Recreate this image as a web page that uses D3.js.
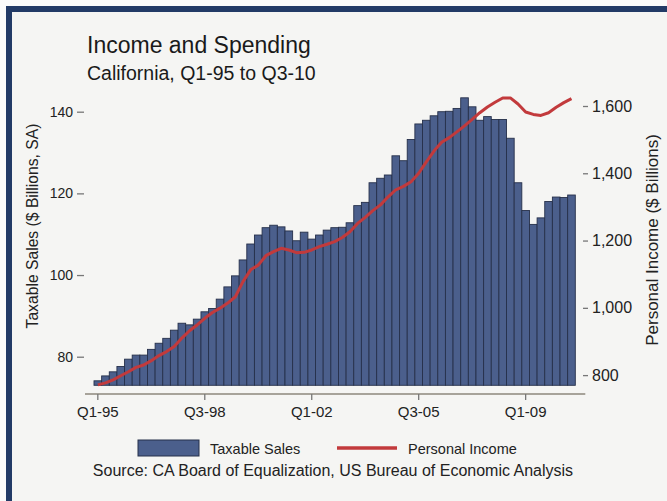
<!DOCTYPE html>
<html lang="en">
<head>
<meta charset="UTF-8">
<title>Income and Spending</title>
<script src="https://d3js.org/d3.v7.min.js"></script>
<style>
    body { margin: 0; background: #fafafa; }
    svg { display: block; font-family: "Liberation Sans", Arial, Helvetica, sans-serif; }
    .tick text { fill: #222; }
    .tick line { stroke: #777; stroke-width: 1.3; }
</style>
</head>
<body>
<svg id="chart" width="667" height="501"></svg>
<script>
    // quarters Q1-95 .. Q3-10
    const years = ["95","96","97","98","99","00","01","02","03","04","05","06","07","08","09","10"];
    const quarters = [];
    years.forEach(y => ["Q1","Q2","Q3","Q4"].forEach(q => quarters.push(q + "-" + y)));
    quarters.splice(quarters.indexOf("Q3-10") + 1);

    // Taxable sales, $ billions SA (left axis)
    const taxableSales = [
        74.1, 75.3, 76.3, 77.6, 79.4, 80.4, 80.4, 81.8, 83.3, 84.5,
        86.5, 88.2, 87.8, 89.2, 91.0, 91.8, 94.1, 97.1, 99.8, 103.7,
        107.6, 109.8, 111.6, 112.2, 111.8, 110.8, 108.4, 110.5, 108.8, 109.8,
        111.0, 111.6, 111.7, 112.8, 117.0, 117.8, 122.6, 123.7, 124.5, 129.2,
        128.0, 133.2, 137.0, 137.9, 139.0, 140.0, 140.1, 140.8, 143.4, 141.2,
        137.9, 138.8, 138.1, 138.1, 133.5, 122.6, 115.8, 112.4, 114.0, 118.0,
        119.1, 119.0, 119.6
    ];

    // Personal income, $ billions (right axis)
    const personalIncome = [
        771, 777, 786, 798, 810, 823, 830, 843, 858, 870,
        885, 910, 932, 949, 969, 986, 999, 1014, 1033, 1078,
        1113, 1127, 1155, 1167, 1177, 1172, 1164, 1165, 1172, 1182,
        1189, 1197, 1209, 1226, 1251, 1269, 1289, 1306, 1330, 1351,
        1361, 1375, 1400, 1434, 1466, 1492, 1506, 1523, 1541, 1560,
        1580, 1597, 1611, 1624, 1624, 1606, 1582, 1575, 1572, 1580,
        1596, 1610, 1622
    ];

    const xTicks = ["Q1-95", "Q3-98", "Q1-02", "Q3-05", "Q1-09"];
    const leftTicks = [80, 100, 120, 140];
    const rightTicks = [800, 1000, 1200, 1400, 1600];

    const barColor = "#4b5f8c";
    const lineColor = "#c23a3c";

    const svg = d3.select("#chart");

    // background and frame
    svg.append("rect").attr("x", 9).attr("y", 9).attr("width", 670).attr("height", 500)
        .attr("fill", "#f5f5f3").attr("stroke", "#223a66").attr("stroke-width", 6);

    // scales
    const x = d3.scaleBand().domain(quarters).range([94, 575.3]).padding(0);
    const yLeft = d3.scaleLinear().domain([73, 140]).range([385.3, 111.7]);
    const yRight = d3.scaleLinear().domain([770, 1600]).range([385.2, 106]);

    // bars
    svg.append("g")
        .selectAll("rect")
        .data(quarters)
        .enter()
        .append("rect")
        .attr("x", d => x(d))
        .attr("y", (d, i) => yLeft(taxableSales[i]))
        .attr("width", x.bandwidth())
        .attr("height", (d, i) => yLeft(73) - yLeft(taxableSales[i]))
        .attr("fill", barColor)
        .attr("stroke", "#26304a")
        .attr("stroke-width", 0.9);

    // income line
    const line = d3.line()
        .x((d, i) => x(quarters[i]) + x.bandwidth() / 2)
        .y(d => yRight(d));

    svg.append("path")
        .datum(personalIncome)
        .attr("d", line)
        .attr("fill", "none")
        .attr("stroke", lineColor)
        .attr("stroke-width", 3)
        .attr("stroke-linejoin", "round");

    // x axis
    const xAxisY = 394;
    svg.append("line")
        .attr("x1", x.range()[0] - 9).attr("x2", x.range()[1] + 10)
        .attr("y1", xAxisY).attr("y2", xAxisY)
        .attr("stroke", "#8c877d").attr("stroke-width", 1.6);

    const gx = svg.append("g")
        .attr("transform", `translate(0,${xAxisY})`)
        .call(d3.axisBottom(x).tickValues(xTicks).tickSize(6).tickPadding(6));
    gx.select(".domain").remove();
    gx.selectAll("text").attr("font-size", 15).attr("dy", "0.71em");

    // left axis
    const gl = svg.append("g")
        .attr("transform", "translate(84,0)")
        .call(d3.axisLeft(yLeft).tickValues(leftTicks).tickSize(7).tickPadding(4));
    gl.select(".domain").remove();
    gl.selectAll("text").attr("font-size", 14);

    // right axis
    const gr = svg.append("g")
        .attr("transform", "translate(583,0)")
        .call(d3.axisRight(yRight).tickValues(rightTicks).tickFormat(d3.format(",")).tickSize(5).tickPadding(4));
    gr.select(".domain").remove();
    gr.selectAll("text").attr("font-size", 16);

    // axis titles
    svg.append("text")
        .attr("transform", "translate(38,226) rotate(-90)")
        .attr("text-anchor", "middle")
        .attr("font-size", 15.7)
        .attr("fill", "#222")
        .text("Taxable Sales ($ Billions, SA)");

    svg.append("text")
        .attr("transform", "translate(658,240) rotate(-90)")
        .attr("text-anchor", "middle")
        .attr("font-size", 17)
        .attr("fill", "#222")
        .text("Personal Income ($ Billions)");

    // titles
    svg.append("text")
        .attr("x", 87).attr("y", 53)
        .attr("font-size", 23)
        .attr("fill", "#1a1a1a")
        .text("Income and Spending");

    svg.append("text")
        .attr("x", 87).attr("y", 80)
        .attr("font-size", 19.5)
        .attr("fill", "#1a1a1a")
        .text("California, Q1-95 to Q3-10");

    // legend
    const legend = svg.append("g");
    legend.append("rect")
        .attr("x", 138).attr("y", 440).attr("width", 61).attr("height", 16)
        .attr("fill", barColor).attr("stroke", "#26304a").attr("stroke-width", 1);
    legend.append("text")
        .attr("x", 210).attr("y", 454)
        .attr("font-size", 14.5).attr("fill", "#222")
        .text("Taxable Sales");
    legend.append("line")
        .attr("x1", 337).attr("x2", 397).attr("y1", 448).attr("y2", 448)
        .attr("stroke", lineColor).attr("stroke-width", 3.5);
    legend.append("text")
        .attr("x", 408).attr("y", 454)
        .attr("font-size", 14.5).attr("fill", "#222")
        .text("Personal Income");

    // source
    svg.append("text")
        .attr("x", 333).attr("y", 476)
        .attr("text-anchor", "middle")
        .attr("font-size", 16).attr("fill", "#222")
        .text("Source: CA Board of Equalization, US Bureau of Economic Analysis");
</script>
</body>
</html>
